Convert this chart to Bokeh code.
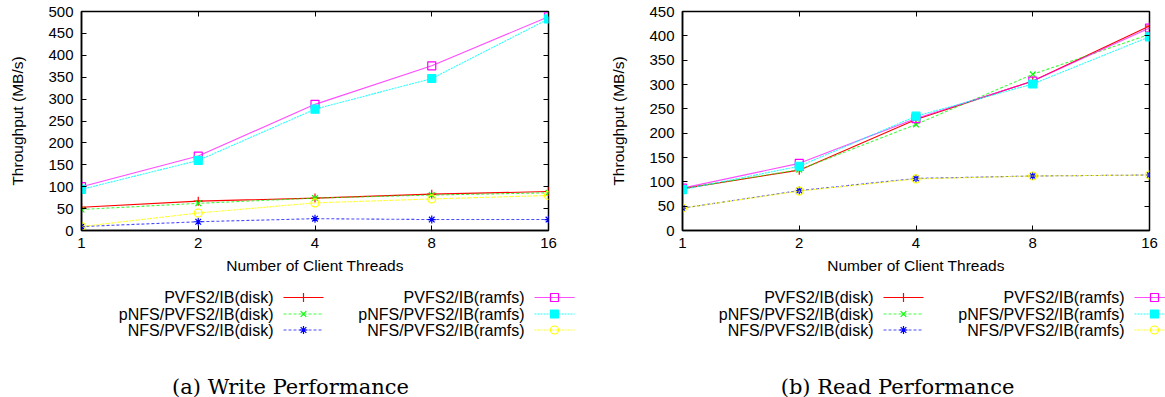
from bokeh.plotting import figure
from bokeh.models import (Range1d, FixedTicker, LinearAxis, LogAxis, BasicTickFormatter,
                          CustomLabelingPolicy)
from bokeh.layouts import row, column
from bokeh.embed import file_html
from bokeh.resources import INLINE
from bokeh.core.properties import value

# ---------------- data ----------------
threads = [1, 2, 4, 8, 16]

series_names = ["PVFS2/IB(disk)", "pNFS/PVFS2/IB(disk)", "NFS/PVFS2/IB(disk)",
                "PVFS2/IB(ramfs)", "pNFS/PVFS2/IB(ramfs)", "NFS/PVFS2/IB(ramfs)"]

write_pvfs2_disk = [53, 67, 74, 83, 89]
write_pnfs_disk = [48, 62, 74, 81, 86]
write_nfs_disk = [9, 20, 27, 25, 25]
write_pvfs2_ramfs = [100, 170, 288, 376, 488]
write_pnfs_ramfs = [94, 160, 277, 347, 483]
write_nfs_ramfs = [9, 40, 63, 72, 80]

read_pvfs2_disk = [86, 124, 228, 307, 420]
read_pnfs_disk = [86, 125, 218, 321, 403]
read_nfs_disk = [46, 82, 107, 112, 114]
read_pvfs2_ramfs = [87, 138, 230, 307, 416]
read_pnfs_ramfs = [84, 132, 235, 301, 398]
read_nfs_ramfs = [46, 81, 106, 112, 114]

write_ticks = [0, 50, 100, 150, 200, 250, 300, 350, 400, 450, 500]
read_ticks = [0, 50, 100, 150, 200, 250, 300, 350, 400, 450]

captions = ["(a) Write Performance", "(b) Read Performance"]
x_label = "Number of Client Threads"
y_label = "Throughput (MB/s)"

# ---------------- styles ----------------
colors = ["#ff0000", "#00ff00", "#0000ff", "#ff00ff", "#00ffff", "#ffff00"]
line_alphas = [1.0, 0.75, 0.7, 0.7, 0.85, 0.85]
markers = ["cross", "x", "asterisk", "square", "square", "circle"]
fills = [None, None, None, None, "#00ffff", None]
dashes = ["solid", "3 2", "3 2", "solid", "2 1", "2 1"]
marker_sizes = [9, 8, 8, 8, 8, 8]

FONT = "Liberation Sans"

no_labels = CustomLabelingPolicy(code="""
for (const i of indices) { indices.unset(i) }
return indices
""")


def make_plot(values, ticks, left_border, right_border):
    ymax = ticks[-1]
    p = figure(frame_width=467, frame_height=219,
               min_border_left=left_border, min_border_right=right_border,
               min_border_top=10, min_border_bottom=51,
               x_axis_type="log", x_range=Range1d(1, 16), y_range=Range1d(0, ymax),
               toolbar_location=None, output_backend="svg")
    p.grid.visible = False
    p.outline_line_color = "black"
    p.outline_line_width = 1.5
    p.background_fill_color = "white"
    p.border_fill_color = "white"

    p.xaxis.ticker = FixedTicker(ticks=threads)
    p.xaxis.formatter = BasicTickFormatter()
    p.yaxis.ticker = FixedTicker(ticks=ticks)
    for ax in (p.xaxis[0], p.yaxis[0]):
        ax.major_tick_in = 5
        ax.major_tick_out = 0
        ax.minor_tick_line_color = None
        ax.axis_line_color = "black"
        ax.axis_line_width = 1.5
        ax.major_tick_line_color = "black"
        ax.major_label_text_font = FONT
        ax.major_label_text_font_size = "15px"
        ax.major_label_text_color = "black"
        ax.axis_label_text_font = FONT
        ax.axis_label_text_font_size = "15.5px"
        ax.axis_label_text_font_style = "normal"
        ax.axis_label_text_color = "black"
    p.xaxis.axis_label = x_label
    p.yaxis.axis_label = y_label
    p.xaxis.major_label_standoff = 7
    p.xaxis.axis_label_standoff = 6
    p.yaxis.major_label_standoff = 8
    p.yaxis.axis_label_standoff = 19

    # mirrored ticks (no labels)
    ry = LinearAxis(ticker=FixedTicker(ticks=ticks), major_label_policy=no_labels,
                    axis_line_color=None, major_tick_in=5, major_tick_out=0,
                    minor_tick_line_color=None, major_label_standoff=0)
    p.add_layout(ry, "right")
    tx = LogAxis(ticker=FixedTicker(ticks=threads), major_label_policy=no_labels,
                 axis_line_color=None, major_tick_in=5, major_tick_out=0,
                 minor_tick_line_color=None, major_label_standoff=0)
    p.add_layout(tx, "above")

    for i, ys in enumerate(values):
        p.line(threads, ys, line_color=colors[i], line_alpha=line_alphas[i],
               line_width=1.1, line_dash=dashes[i])
        p.scatter(threads, ys, marker=markers[i], size=marker_sizes[i],
                  line_color=colors[i], line_width=1.2,
                  fill_color=fills[i] if fills[i] else None)
    return p


def make_legend(total_width, panel_offsets, cap_xs):
    h = 117
    q = figure(width=total_width, height=h, x_range=Range1d(0, total_width),
               y_range=Range1d(h, 0), min_border=0, toolbar_location=None,
               output_backend="svg", x_axis_location=None, y_axis_location=None)
    q.grid.visible = False
    q.outline_line_color = None
    row_y = [16, 32.5, 48.5]
    text_right = [273, 524]
    for off, cap, cx in zip(panel_offsets, captions, cap_xs):
        for i, name in enumerate(series_names):
            c, r = divmod(i, 3)
            y = row_y[r]
            tx = off + text_right[c]
            q.text([tx], [y], text=[name], text_align="right", text_baseline="middle",
                   text_font=value(FONT), text_font_size="16px", text_color="black")
            x0, x1 = tx + 10, tx + 50
            q.line([x0, x1], [y, y], line_color=colors[i], line_alpha=line_alphas[i],
                   line_width=1.1, line_dash=dashes[i])
            q.scatter([(x0 + x1) / 2], [y], marker=markers[i], size=marker_sizes[i],
                      line_color=colors[i], line_width=1.2,
                      fill_color=fills[i] if fills[i] else None)
        q.text([off + cx], [105], text=[cap], text_align="center", text_baseline="middle",
               text_font=value("DejaVu Serif"), text_font_size="21px", text_color="black")
    return q


write_vals = [write_pvfs2_disk, write_pnfs_disk, write_nfs_disk,
              write_pvfs2_ramfs, write_pnfs_ramfs, write_nfs_ramfs]
read_vals = [read_pvfs2_disk, read_pnfs_disk, read_nfs_disk,
             read_pvfs2_ramfs, read_pnfs_ramfs, read_nfs_ramfs]

p1 = make_plot(write_vals, write_ticks, 81, 52)
p2 = make_plot(read_vals, read_ticks, 82, 16)
leg = make_legend(1165, [0, 600], [290, 297])

layout = column(row(p1, p2, spacing=0), leg, spacing=0)

open("out.html", "w").write(file_html(layout, INLINE))
